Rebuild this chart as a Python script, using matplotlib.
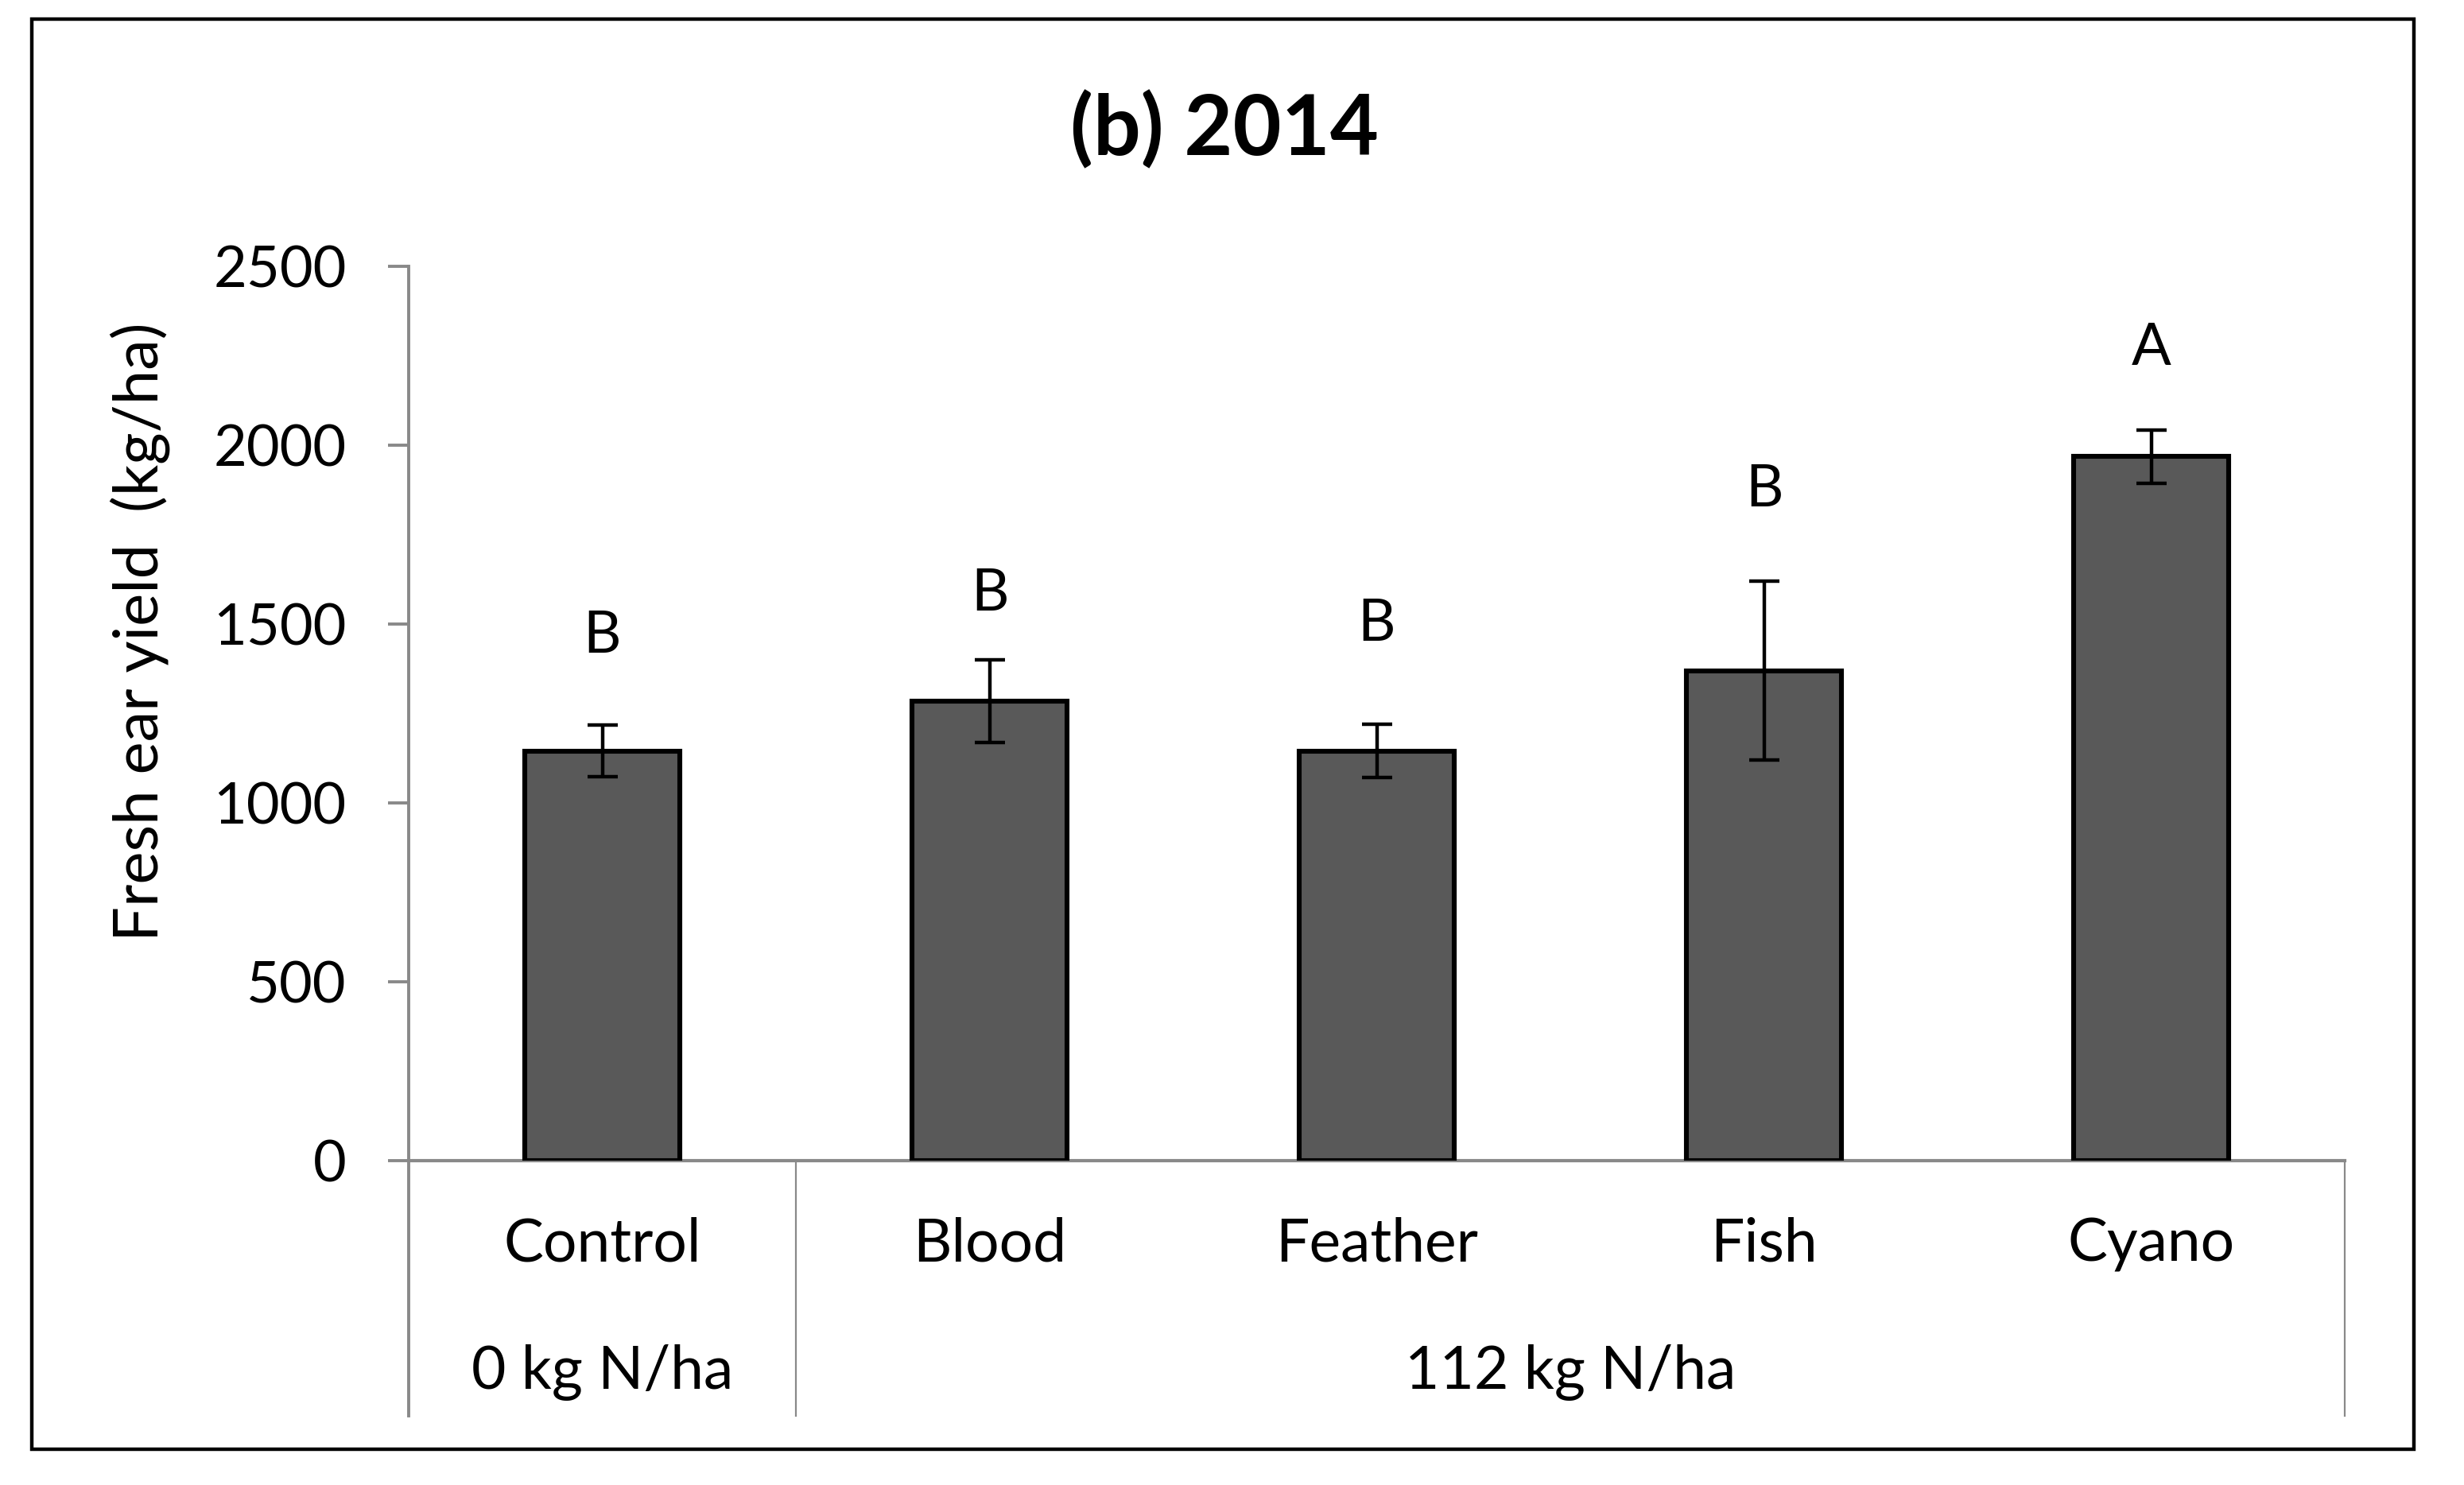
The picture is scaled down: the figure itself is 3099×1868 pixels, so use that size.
import matplotlib
matplotlib.use("Agg")
import matplotlib.pyplot as plt
from matplotlib.patches import Rectangle
from matplotlib.lines import Line2D
import matplotlib.transforms as mtransforms

plt.rcParams['font.family'] = ['Lato', 'DejaVu Sans']

# ---- data ----
categories = ["Control", "Blood", "Feather", "Fish", "Cyano"]
yields = [1145, 1285, 1145, 1370, 1968]
errors = [72, 115, 74, 250, 75]
letters = ["B", "B", "B", "B", "A"]
letter_y = [1466, 1584, 1499, 1875, 2269]
group_labels = ["0 kg N/ha", "112 kg N/ha"]
group_members = [[0], [1, 2, 3, 4]]
yticks = [0, 500, 1000, 1500, 2000, 2500]

W, H = 3099, 1868
DPI = 100
fig = plt.figure(figsize=(W / DPI, H / DPI), dpi=DPI)
fig.patch.set_facecolor("white")

# outer frame
fig.patches.append(Rectangle((40 / W, 1 - 1823 / H), (3036 - 40) / W, (1823 - 24) / H,
                             transform=fig.transFigure, fill=False,
                             edgecolor="black", linewidth=3.2, zorder=0))

ax_left, ax_right, ax_top, ax_bottom = 514, 2949, 335, 1460
ax = fig.add_axes([ax_left / W, 1 - ax_bottom / H, (ax_right - ax_left) / W, (ax_bottom - ax_top) / H])

gray = "#898989"
x = list(range(len(categories)))
ax.bar(x, yields, width=0.4, color="#595959", edgecolor="black", linewidth=4.4, zorder=3)
ax.errorbar(x, yields, yerr=errors, fmt="none", ecolor="black", elinewidth=3.2,
            capsize=13.5, capthick=3.2, zorder=4)

for xi, ly, lt in zip(x, letter_y, letters):
    ax.text(xi, ly, lt, ha="center", va="center", fontsize=53, color="black")

ax.set_xlim(-0.5, len(categories) - 0.5)
ax.set_ylim(0, 2500)
ax.set_yticks(yticks)
ax.set_yticklabels([str(t) for t in yticks], fontsize=52)
ax.tick_params(axis="y", length=18.5, width=2.8, color=gray, pad=38)
ax.set_xticks([])

for s in ["top", "right", "left"]:
    ax.spines[s].set_visible(False)
ax.spines["bottom"].set_color(gray)
ax.spines["bottom"].set_linewidth(3.0)

trans = mtransforms.blended_transform_factory(ax.transData, ax.transAxes)
low = (ax_bottom - 1781) / (ax_bottom - ax_top)

# y axis line extending down into the category table
ax.add_line(Line2D([-0.5, -0.5], [1.0, low], transform=trans, color=gray,
                   linewidth=2.8, clip_on=False, zorder=5))
# group dividers
ax.add_line(Line2D([0.5, 0.5], [0, low], transform=trans, color=gray,
                   linewidth=1.6, clip_on=False))
ax.add_line(Line2D([len(categories) - 0.5] * 2, [0, low], transform=trans, color=gray,
                   linewidth=1.6, clip_on=False))

cat_y = (ax_bottom - 1565) / (ax_bottom - ax_top)
grp_y = (ax_bottom - 1727) / (ax_bottom - ax_top)
for xi, c in zip(x, categories):
    ax.text(xi, cat_y, c, transform=trans, ha="center", va="center", fontsize=54)
for g, members in zip(group_labels, group_members):
    gx = (min(members) + max(members)) / 2
    ax.text(gx, grp_y, g, transform=trans, ha="center", va="center", fontsize=54)

fig.text(176 / W, 1 - 795 / H, "Fresh ear yield  (kg/ha)", rotation=90,
         ha="center", va="center", fontsize=56)

fig.text(1540 / W, 1 - 164 / H, "(b) 2014", ha="center", va="center",
         fontsize=76, fontweight="bold")

fig.savefig("out.png", dpi=DPI)
